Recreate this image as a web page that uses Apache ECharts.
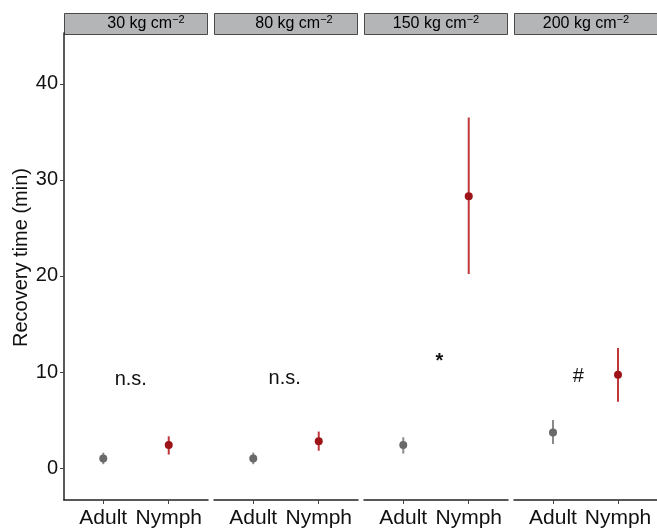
<!DOCTYPE html>
<html>
<head>
<meta charset="utf-8">
<script src="https://cdn.jsdelivr.net/npm/echarts@6/dist/echarts.min.js"></script>
<style>
  html, body { margin: 0; padding: 0; background: #fff; }
  #chart { width: 657px; height: 529px; }
</style>
</head>
<body>
<div id="chart"></div>
<script>
// Recovery time by life stage, faceted by load
const panels = ['30', '80', '150', '200'];
const groups = ['Adult', 'Nymph'];
const adultMean = [1.0, 1.0, 2.4, 3.7];
const adultLow  = [0.4, 0.4, 1.5, 2.5];
const adultHigh = [1.6, 1.6, 3.2, 5.0];
const nymphMean = [2.4, 2.8, 28.3, 9.7];
const nymphLow  = [1.4, 1.8, 20.2, 6.9];
const nymphHigh = [3.3, 3.8, 36.5, 12.5];
const sigText = ['n.s.', 'n.s.', '*', '#'];
const sigX = [1.42, 1.48, 1.55, 1.39];
const sigY = [9.2, 9.3, 11.1, 9.5];
const yTicks = [0, 10, 20, 30, 40];

const ADULT = '#696969', ADULT_BAR = '#8a8a8a';
const NYMPH = '#9c1418', NYMPH_BAR = '#c0373a';
const FONT = 'Liberation Sans, Arial, sans-serif';

const chart = echarts.init(document.getElementById('chart'));

const grids = [], xAxes = [], yAxes = [], series = [], graphic = [];
const stripShift = [10, 8, 0, 0];

panels.forEach((p, i) => {
  const left = 64 + 150 * i;
  grids.push({ left, width: 144, top: 33, bottom: 29 });
  xAxes.push({
    gridIndex: i, type: 'value', min: 0.4, max: 2.6,
    axisLine: { show: true, onZero: false, lineStyle: { color: '#222', width: 1.5 } },
    axisTick: { show: true, length: 4, lineStyle: { color: '#444' }, customValues: [1, 2] },
    axisLabel: {
      customValues: [1, 2], margin: 8, color: '#111', fontSize: 21, fontFamily: FONT,
      formatter: v => groups[Math.round(v) - 1]
    },
    splitLine: { show: false }
  });
  yAxes.push({
    gridIndex: i, type: 'value', min: -3.33, max: 45.3,
    name: i === 0 ? 'Recovery time (min)' : '',
    nameLocation: 'middle', nameGap: 33, nameRotate: 90,
    nameTextStyle: { fontSize: 20, color: '#111', fontFamily: FONT, padding: [0, 0, 0, 18] },
    axisLine: { show: i === 0, onZero: false, lineStyle: { color: '#222', width: 1.5 } },
    axisTick: { show: i === 0, length: 4, lineStyle: { color: '#444' }, customValues: yTicks },
    axisLabel: { show: i === 0, customValues: yTicks, color: '#111', fontSize: 20, fontFamily: FONT, margin: 6 },
    splitLine: { show: false }
  });

  const bars = [
    [1, adultLow[i], adultHigh[i], 0],
    [2, nymphLow[i], nymphHigh[i], 1]
  ];
  series.push({
    type: 'custom', xAxisIndex: i, yAxisIndex: i, data: bars, z: 2,
    renderItem: (params, api) => {
      const a = api.coord([api.value(0), api.value(1)]);
      const b = api.coord([api.value(0), api.value(2)]);
      return {
        type: 'line',
        shape: { x1: a[0], y1: a[1], x2: b[0], y2: b[1] },
        style: { stroke: api.value(3) ? NYMPH_BAR : ADULT_BAR, lineWidth: 2 }
      };
    }
  });
  series.push({
    type: 'scatter', xAxisIndex: i, yAxisIndex: i, symbolSize: 8, z: 3,
    data: [
      { value: [1, adultMean[i]], itemStyle: { color: ADULT, opacity: 1 } },
      { value: [2, nymphMean[i]], itemStyle: { color: NYMPH, opacity: 1 } }
    ]
  });
  // significance marks
  series.push({
    type: 'custom', xAxisIndex: i, yAxisIndex: i, silent: true, z: 4,
    data: [[sigX[i], sigY[i]]],
    renderItem: (params, api) => {
      const c = api.coord([api.value(0), api.value(1)]);
      return {
        type: 'text', x: c[0], y: c[1],
        style: {
          text: sigText[i], align: 'center', verticalAlign: 'middle',
          fontSize: 20, fontFamily: FONT, fill: '#111',
          fontWeight: sigText[i] === '*' ? 'bold' : 'normal'
        }
      };
    }
  });

  graphic.push({
    type: 'rect', left: left, top: 13,
    shape: { width: 143, height: 21 },
    style: { fill: '#b3b5b7', stroke: '#4a4a4a', lineWidth: 1 }
  });
  graphic.push({
    type: 'text', x: left + 72 + stripShift[i], y: 24,
    style: {
      text: '{b|' + p + ' kg cm}{s|\u22122}', align: 'center', verticalAlign: 'middle',
      rich: {
        b: { fontSize: 16, fontFamily: FONT, color: '#111' },
        s: { fontSize: 11, fontFamily: FONT, color: '#111', verticalAlign: 'top', padding: [0, 0, 8, 0] }
      }
    }
  });
});

chart.setOption({
  animation: false,
  grid: grids,
  xAxis: xAxes,
  yAxis: yAxes,
  series,
  graphic
});
</script>
</body>
</html>
